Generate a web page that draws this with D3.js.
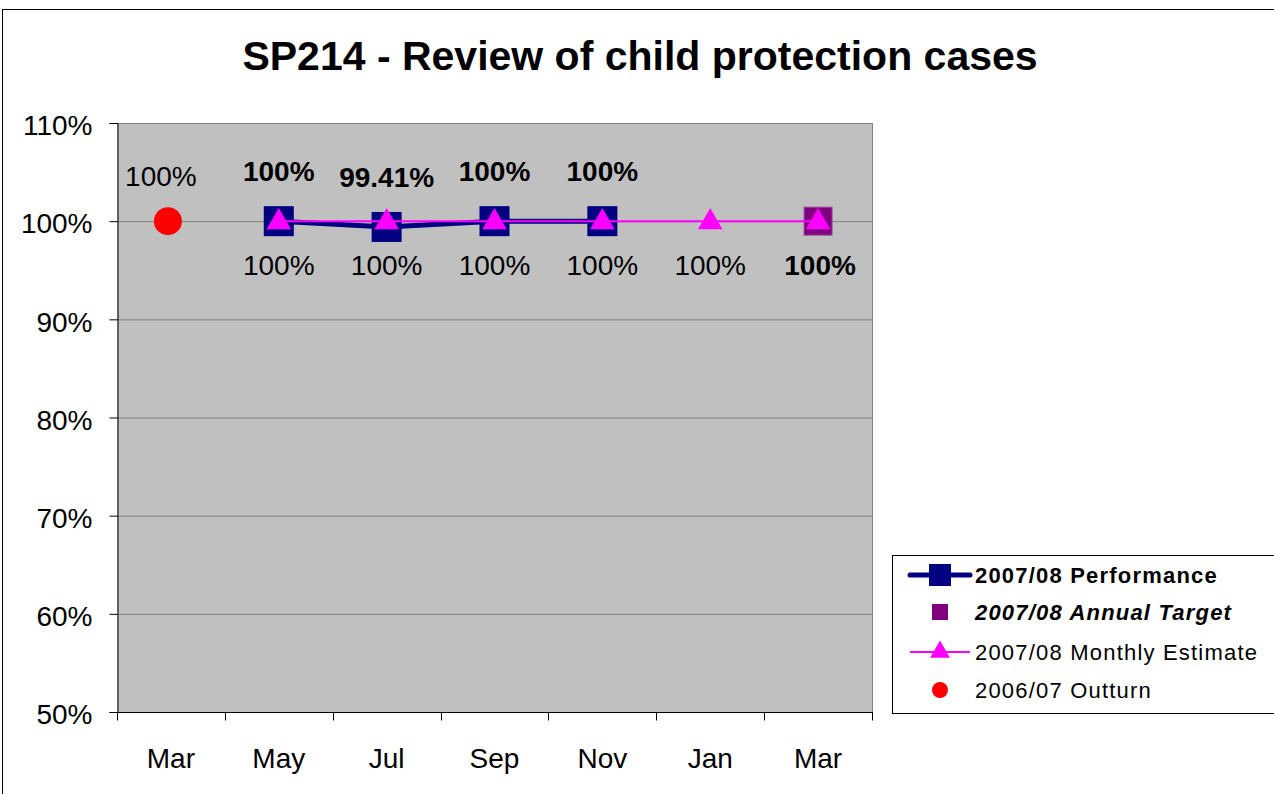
<!DOCTYPE html>
<html><head><meta charset="utf-8">
<script src="https://cdn.jsdelivr.net/npm/d3@7"></script>
<style>body{margin:0;background:#fff}svg{display:block;font-family:"Liberation Sans",Arial,sans-serif}</style>
</head><body>
<svg id="c" width="1274" height="794"></svg>
<script>
const categories = ["Mar","May","Jul","Sep","Nov","Jan","Mar "];
const performance = [null, 1.00, 0.9941, 1.00, 1.00, null, null];
const performanceLabels = [null, "100%", "99.41%", "100%", "100%", null, null];
const annualTarget = [null, null, null, null, null, null, 1.00];
const monthlyEstimate = [null, 1.00, 1.00, 1.00, 1.00, 1.00, 1.00];
const outturn = [1.00, null, null, null, null, null, null];
const yTicks = [0.5, 0.6, 0.7, 0.8, 0.9, 1.0, 1.1];
const title = "SP214 - Review of child protection cases";

const svg = d3.select("#c");
const L = 117, R = 872, T = 123, B = 712;
const x = d3.scaleBand().domain(categories).range([L, R]);
const y = d3.scaleLinear().domain([0.5, 1.1]).range([B, T]);
const cx = c => x(c) + x.bandwidth() / 2;
const pct = d3.format(".0%");
const FS = 28;

svg.append("rect").attr("x", 2.5).attr("y", 9.5).attr("width", 1290).attr("height", 800)
  .attr("fill", "none").attr("stroke", "#000").attr("stroke-width", 1);

svg.append("text").attr("x", 640).attr("y", 70).attr("text-anchor", "middle")
  .attr("font-size", 41).attr("font-weight", "bold").text(title);

svg.append("rect").attr("x", L).attr("y", T).attr("width", R - L).attr("height", B - T).attr("fill", "#c0c0c0");
svg.append("g").selectAll("line").data(yTicks.slice(1)).join("line")
  .attr("x1", L).attr("x2", R).attr("y1", d => y(d) + 0.5).attr("y2", d => y(d) + 0.5)
  .attr("stroke", "#808080").attr("stroke-width", 1);
svg.append("line").attr("x1", R + 0.5).attr("x2", R + 0.5).attr("y1", T).attr("y2", B).attr("stroke", "#808080");

const yAxis = d3.axisLeft(y).tickValues(yTicks).tickFormat(pct).tickSize(8).tickPadding(17);
const gy = svg.append("g").attr("transform", `translate(${L + 0.5},0)`).call(yAxis);
gy.selectAll("text").attr("font-size", FS).attr("font-family", "Liberation Sans, Arial, sans-serif")
  .attr("fill", "#000").attr("dy", "0.42em");
gy.selectAll("line,path").attr("stroke", "#000");

const gx = svg.append("g").attr("transform", `translate(0,${B + 0.5})`);
gx.append("line").attr("x1", L).attr("x2", R + 1).attr("stroke", "#000");
const bounds = categories.map(c => x(c)).concat([R]);
gx.selectAll("line.t").data(bounds).join("line").attr("class", "t")
  .attr("x1", d => Math.round(d) + 0.5).attr("x2", d => Math.round(d) + 0.5).attr("y1", 0).attr("y2", 8).attr("stroke", "#000");
gx.selectAll("text").data(categories).join("text")
  .attr("x", d => cx(d)).attr("y", 55).attr("text-anchor", "middle").attr("font-size", FS).text(d => d.trim());

const perfPts = categories.map((c, i) => ({c, v: performance[i], lab: performanceLabels[i]})).filter(d => d.v != null);
const estPts = categories.map((c, i) => ({c, v: monthlyEstimate[i]})).filter(d => d.v != null);
const tgtPts = categories.map((c, i) => ({c, v: annualTarget[i]})).filter(d => d.v != null);
const outPts = categories.map((c, i) => ({c, v: outturn[i]})).filter(d => d.v != null);
const line = d3.line().x(d => cx(d.c)).y(d => y(d.v));

svg.append("path").datum(perfPts).attr("d", line).attr("fill", "none").attr("stroke", "#000080").attr("stroke-width", 5);
svg.append("g").selectAll("rect").data(perfPts).join("rect")
  .attr("x", d => cx(d.c) - 15).attr("y", d => y(d.v) - 15).attr("width", 30).attr("height", 30).attr("fill", "#000080");
svg.append("g").selectAll("rect").data(tgtPts).join("rect")
  .attr("x", d => cx(d.c) - 14).attr("y", d => y(d.v) - 14).attr("width", 28).attr("height", 28)
  .attr("fill", "#800080").attr("stroke", "#9a4a9a").attr("stroke-width", 1);
svg.append("path").datum(estPts).attr("d", line).attr("fill", "none").attr("stroke", "#ff00ff").attr("stroke-width", 2);
const tri = d3.symbol().type(d3.symbolTriangle).size(260);
svg.append("g").selectAll("path").data(estPts).join("path")
  .attr("transform", d => `translate(${cx(d.c)},${y(d.v) + 1})`).attr("d", tri).attr("fill", "#ff00ff");
svg.append("g").selectAll("circle").data(outPts).join("circle")
  .attr("cx", d => cx(d.c) - 3).attr("cy", d => y(d.v)).attr("r", 14).attr("fill", "#ff0000");

svg.append("g").selectAll("text").data(perfPts).join("text")
  .attr("x", d => cx(d.c)).attr("y", d => y(d.v) - 40).attr("text-anchor", "middle")
  .attr("font-size", FS).attr("font-weight", "bold").text(d => d.lab);
svg.append("g").selectAll("text").data(estPts.filter(d => !tgtPts.some(t => t.c === d.c))).join("text")
  .attr("x", d => cx(d.c)).attr("y", d => y(d.v) + 54).attr("text-anchor", "middle")
  .attr("font-size", FS).text(d => pct(d.v));
svg.append("g").selectAll("text").data(tgtPts).join("text")
  .attr("x", d => cx(d.c) + 2).attr("y", d => y(d.v) + 54).attr("text-anchor", "middle")
  .attr("font-size", FS).attr("font-weight", "bold").text(d => pct(d.v));
svg.append("g").selectAll("text").data(outPts).join("text")
  .attr("x", d => cx(d.c) - 10).attr("y", d => y(d.v) - 35).attr("text-anchor", "middle")
  .attr("font-size", FS).text(d => pct(d.v));

const lg = svg.append("g");
lg.append("rect").attr("x", 892.5).attr("y", 555.5).attr("width", 400).attr("height", 158)
  .attr("fill", "#fff").attr("stroke", "#000");
const legendItems = [
  {name: "2007/08 Performance", type: "perf", y: 575, weight: "bold", style: "normal"},
  {name: "2007/08 Annual Target", type: "tgt", y: 612, weight: "bold", style: "italic"},
  {name: "2007/08 Monthly Estimate", type: "est", y: 652, weight: "normal", style: "normal"},
  {name: "2006/07 Outturn", type: "out", y: 690, weight: "normal", style: "normal"}
];
const mx = 940;
legendItems.forEach(it => {
  if (it.type === "perf") {
    lg.append("line").attr("x1", 910).attr("x2", 970).attr("y1", it.y).attr("y2", it.y)
      .attr("stroke", "#000080").attr("stroke-width", 5).attr("stroke-linecap", "round");
    lg.append("rect").attr("x", mx - 11).attr("y", it.y - 11).attr("width", 22).attr("height", 22).attr("fill", "#000080");
  } else if (it.type === "tgt") {
    lg.append("rect").attr("x", mx - 8).attr("y", it.y - 8).attr("width", 16).attr("height", 16).attr("fill", "#800080");
  } else if (it.type === "est") {
    lg.append("line").attr("x1", 910).attr("x2", 970).attr("y1", it.y).attr("y2", it.y)
      .attr("stroke", "#ff00ff").attr("stroke-width", 2);
    lg.append("path").attr("transform", `translate(${mx},${it.y})`).attr("d", d3.symbol().type(d3.symbolTriangle).size(170)()).attr("fill", "#ff00ff");
  } else {
    lg.append("circle").attr("cx", mx).attr("cy", it.y).attr("r", 8).attr("fill", "#ff0000");
  }
  lg.append("text").attr("x", 975).attr("y", it.y + 8).attr("font-size", 22).attr("letter-spacing", 1.2)
    .attr("font-weight", it.weight).attr("font-style", it.style).text(it.name);
});
</script>
</body></html>
